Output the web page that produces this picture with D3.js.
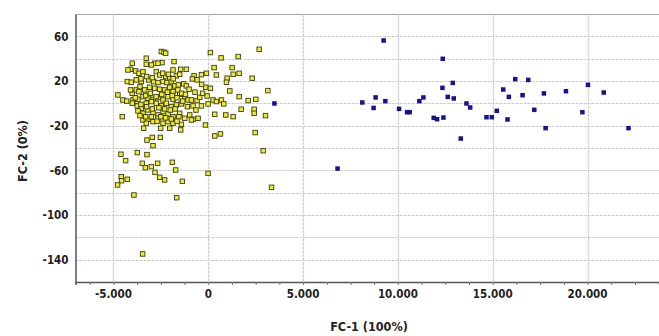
<!DOCTYPE html>
<html><head><meta charset="utf-8">
<script src="https://cdn.jsdelivr.net/npm/d3@7"></script>
<style>html,body{margin:0;padding:0;background:#fff;}svg{display:block;}</style>
</head><body>
<script>
// ---- data ----
const xTicks = [-5000, 0, 5000, 10000, 15000, 20000];
const yTicks = [60, 20, -20, -60, -100, -140];
const xTitle = "FC-1 (100%)";
const yTitle = "FC-2 (0%)";

const yellowX = [-2474,-2333,-2245,2686,114,1576,678,-3267,-1805,-4006,-4094,-4235,-2826,-2439,-3267,-3003,-2650,-1858,-1453,-1153,1259,1629,1312,308,-3830,-3654,-3443,-361,-97,431,-2738,-2562,-2245,-2034,-1682,-1506,-748,-836,-590,995,960,2316,-4270,-4059,-3795,-3531,-3143,-2879,-2650,-2386,-2175,-1946,-1770,-1576,-1294,-1153,-1013,-132,114,1136,3143,-4764,-4499,-4006,-3795,-3654,-3355,-3091,-2826,-2562,-2298,-2034,-1858,-1506,-1242,-1065,-3971,-3707,-3443,-3179,-2914,-2650,-2386,-2122,-1858,-889,-590,-449,-62,255,431,696,819,1629,2104,2509,-4006,-3742,-3531,-3267,-3003,-2738,-2474,-2210,-1946,-1682,-1418,-801,-361,-9,343,925,1312,1735,2421,2421,3020,-4535,-3707,-3443,-3179,-2914,-2650,-2386,-2122,-1858,-1506,-1242,-977,-801,-537,-3443,-3179,-2914,-2650,-2386,-2122,-1858,-1418,-889,-150,-3408,-3267,-2509,-2034,-1453,343,643,2474,-3231,-2950,-2527,-2914,-4605,-3742,-3231,2897,-3478,-3319,-3003,-2668,-1893,-2809,-1717,-2562,-2298,-4587,-4570,-4781,-4358,-4270,-1365,-9,-3918,-1664,3337,-3460,
  -3600,-3300,-3050,-2750,-2450,-2150,-1900,-1650,-1350,-3850,-3550,-3250,-2950,-2600,-2300,-2000,-1750,-1550,-3600,-3300,-3000,-2700,-2500,-2250,-1950,-1650,-3550,-3250,-2950,-2400,-2100,-1850,-1600,-1400,-1200,-700,-300,-1100,-650,-350,-4100,-4300];
const yellowY = [46.4,45.8,44.9,48.4,45.5,41.9,40.7,40.4,37.4,35.9,30.5,29.9,35.9,36.5,35.0,34.4,35.9,29.9,30.5,30.5,32.0,26.9,26.0,32.0,29.0,26.9,28.4,25.7,26.9,25.4,28.4,25.4,24.0,22.5,24.6,26.0,24.6,21.9,21.0,22.5,18.9,22.5,19.5,18.9,21.0,19.5,21.0,19.5,18.6,19.5,18.6,19.5,15.6,16.5,17.4,15.6,12.6,14.4,13.5,11.1,11.4,7.5,3.0,9.0,12.0,10.5,12.0,14.4,13.5,12.6,12.0,14.4,10.5,8.1,6.0,3.0,3.0,3.6,6.0,4.5,3.6,5.1,3.0,6.0,3.6,3.0,2.5,5.4,6.6,3.0,1.6,3.0,-0.5,6.0,2.5,3.6,0.1,-2.3,-4.4,0.1,1.6,0.1,-2.3,0.1,-2.9,-1.4,-0.5,-2.3,-2.3,-0.5,-9.8,-10.4,-11.9,-5.3,-5.3,-8.9,-11.0,-11.9,-6.8,-8.9,-5.9,-8.3,-10.4,-7.4,-9.5,-11.9,-8.9,-13.4,-10.4,-14.3,-13.4,-14.9,-14.3,-16.4,-13.4,-17.9,-16.4,-17.9,-18.8,-14.9,-19.4,-22.3,-17.9,-22.3,-22.3,-23.8,-29.2,-27.4,-26.2,-32.9,-30.5,-30.5,-37.9,-45.6,-44.1,-45.9,-42.4,-53.7,-57.6,-56.7,-53.7,-52.8,-61.8,-59.7,-66.3,-68.6,-65.7,-69.3,-73.1,-51.3,-68.0,-69.8,-62.7,-82.1,-84.5,-75.2,-134.9,
  15,7,9,6,8,10,7,5,2,5,-1,-3,-5,-4,-5,-6,-5,-12,-11,-12,-12,-16,-12,-13,-14,-16,22,24,23,27,26,22,12,9,8,10,9,-3,-6,17,12,2];

const blueX = [9234,8109,8706,8811,9324,10048,10470,10607,11120,11331,11875,12055,12388,12351,12335,12615,12879,12932,13302,13603,13798,14659,14939,15203,15541,15769,15837,16175,16561,16862,17179,17686,17776,18848,19715,20011,20840,22145,6804,3476];
const blueY = [56.5,1.0,-3.9,5.5,2.2,-4.7,-7.7,-7.7,2.2,5.5,-12.8,-14.0,-12.5,40.1,14.1,6.0,18.5,4.6,-31.3,0.1,-3.5,-12.2,-12.2,-6.5,12.6,-14.2,6.0,21.9,7.5,21.2,-5.6,9.1,-22.0,11.1,-7.7,16.8,9.9,-22.0,-58.2,0.1];

// ---- drawing ----
const W = 659, H = 336;
const pL = 75.5, pR = 663.4, pT = 14, pB = 282;
const svg = d3.select("body").append("svg").attr("width", W).attr("height", H);

const x = d3.scaleLinear().domain([-7000, 24000]).range([pL, pR]);
const y = d3.scaleLinear().domain([-160, 80]).range([pB, pT]);

const loc = d3.formatLocale({decimal: ",", thousands: ".", grouping: [3], currency: ["", ""], minus: "-"});
const fmt = loc.format(",.0f");
const font = "'DejaVu Sans Condensed','DejaVu Sans',sans-serif";

// grid
const g = svg.append("g");
g.selectAll("line.h").data(d3.range(-140, 81, 20)).join("line")
  .attr("x1", pL).attr("x2", W).attr("y1", d => Math.round(y(d)) + 0.5).attr("y2", d => Math.round(y(d)) + 0.5)
  .attr("stroke", d => d === 80 ? "#a8a8a8" : "#cdcdcd").attr("stroke-width", 1.2)
  .attr("stroke-dasharray", d => d === 80 ? null : "3,1");
g.selectAll("line.v").data(xTicks).join("line")
  .attr("y1", pT).attr("y2", pB).attr("x1", d => Math.round(x(d)) + 0.5).attr("x2", d => Math.round(x(d)) + 0.5)
  .attr("stroke", "#cdcdcd").attr("stroke-width", 1.2).attr("stroke-dasharray", "3,1");

// x axis
const xAxis = d3.axisBottom(x).tickValues(d3.range(-6250, 23800, 1250)).tickSize(3).tickFormat("");
svg.append("g").attr("transform", `translate(0,${pB})`).call(xAxis)
  .call(a => a.select(".domain").attr("stroke", "#555").attr("stroke-width", 1.5))
  .call(a => a.selectAll(".tick line").attr("stroke", "#777"));
svg.append("g").selectAll("text").data(xTicks).join("text")
  .attr("x", d => x(d)).attr("y", 298).attr("text-anchor", "middle")
  .attr("font-family", font).attr("font-size", 11.5).attr("font-weight", "bold").attr("fill", "#222")
  .text(d => fmt(d));

// y axis
const yAxis = d3.axisLeft(y).tickValues(yTicks).tickSize(0).tickPadding(7).tickFormat(d => fmt(d));
svg.append("g").attr("transform", `translate(${pL},0)`).call(yAxis)
  .call(a => a.select(".domain").attr("stroke", "#555").attr("stroke-width", 1.5))
  .call(a => a.selectAll("text").attr("font-family", font).attr("font-size", 11.5).attr("font-weight", "bold").attr("fill", "#222"));

// titles
svg.append("text").attr("x", 369).attr("y", 331).attr("text-anchor", "middle")
  .attr("font-family", font).attr("font-size", 12.5).attr("font-weight", "bold").attr("fill", "#222").text(xTitle);
svg.append("text").attr("transform", "translate(27,151) rotate(-90)").attr("text-anchor", "middle")
  .attr("font-family", font).attr("font-size", 12.5).attr("font-weight", "bold").attr("fill", "#222").text(yTitle);

// points
const yellow = d3.zip(yellowX, yellowY);
const blue = d3.zip(blueX, blueY);
svg.append("g").selectAll("rect").data(yellow).join("rect")
  .attr("x", d => x(d[0]) - 2.25).attr("y", d => y(d[1]) - 2.25).attr("width", 4.5).attr("height", 4.5)
  .attr("fill", "#eeee22").attr("stroke", "#3a3a20").attr("stroke-width", 0.9);
svg.append("g").selectAll("rect").data(blue).join("rect")
  .attr("x", d => x(d[0]) - 2).attr("y", d => y(d[1]) - 2).attr("width", 4.5).attr("height", 4.5)
  .attr("fill", "#14148c");
</script>
</body></html>
